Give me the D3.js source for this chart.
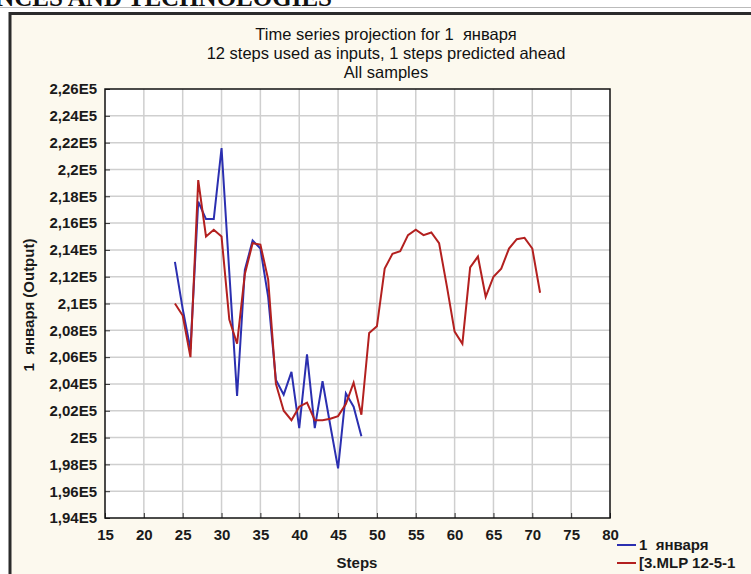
<!DOCTYPE html>
<html>
<head>
<meta charset="utf-8">
<script src="https://cdn.jsdelivr.net/npm/d3@7"></script>
<style>
  body { margin: 0; background: #fff; }
  svg { display: block; font-family: "Liberation Sans", Arial, sans-serif; }
  svg text { white-space: pre; }
</style>
</head>
<body>
<div id="chart"></div>
<script>
// steps and values
const actualSteps = [24, 25, 26, 27, 28, 29, 30, 31, 32, 33, 34, 35, 36, 37, 38, 39, 40, 41, 42, 43, 44, 45, 46, 47, 48];
const actualValues = [213100, 209600, 206600, 217600, 216300, 216300, 221600, 212300, 203100, 212500, 214700, 214100,
                      210500, 204300, 203200, 204900, 200700, 206200, 200700, 204200, 200900, 197700, 203300, 202300, 200100];

const predSteps = [24, 25, 26, 27, 28, 29, 30, 31, 32, 33, 34, 35, 36, 37, 38, 39, 40, 41, 42, 43, 44, 45, 46, 47,
                   48, 49, 50, 51, 52, 53, 54, 55, 56, 57, 58, 59, 60, 61, 62, 63, 64, 65, 66, 67, 68, 69, 70, 71];
const predValues = [210000, 209100, 206000, 219200, 215000, 215500, 215000, 208800, 207000, 212200, 214500, 214400,
                    211800, 204000, 202000, 201300, 202300, 202600, 201300, 201300, 201400, 201600, 202500, 204100,
                    201700, 207800, 208300, 212600, 213700, 213900, 215100, 215500, 215100, 215300, 214500, 211300,
                    207900, 207000, 212700, 213500, 210500, 212000, 212600, 214100, 214800, 214900, 214100, 210800];

const xTicks = [15, 20, 25, 30, 35, 40, 45, 50, 55, 60, 65, 70, 75, 80];
const yTicks = [194000, 196000, 198000, 200000, 202000, 204000, 206000, 208000, 210000, 212000, 214000, 216000,
                218000, 220000, 222000, 224000, 226000];

const titleLines = ["Time series projection for 1  января", "12 steps used as inputs, 1 steps predicted ahead", "All samples"];
const seriesNames = ["1  января", "[3.MLP 12-5-1"];

const W = 751, H = 574;
const plotL = 105, plotR = 610, plotT = 89, plotB = 518;

const svg = d3.select("#chart").append("svg")
    .attr("width", W)
    .attr("height", H);

// page strip (running head of the page, cut by the crop) + frame of the panel
svg.append("rect").attr("width", W).attr("height", H).attr("fill", "#fff");
svg.append("text")
    .attr("x", 332).attr("y", 6)
    .attr("text-anchor", "end")
    .style("font-family", "'Liberation Serif', serif")
    .style("font-weight", "bold")
    .style("font-size", "25px")
    .attr("fill", "#111")
    .text("ENGINEERING SCIENCES AND TECHNOLOGIES");
svg.append("line").attr("x1", 0).attr("x2", W).attr("y1", 7.5).attr("y2", 7.5)
    .attr("stroke", "#bbb").attr("stroke-width", 1);
svg.append("rect").attr("x", 11).attr("y", 14).attr("width", W).attr("height", H)
    .attr("fill", "#fcf9ee");
svg.append("path").attr("d", `M10,${H} V13.5 H${W}`)
    .attr("fill", "none").attr("stroke", "#2b2b2b").attr("stroke-width", 3);

const x = d3.scaleLinear().domain([15, 80]).range([plotL, plotR]);
const y = d3.scaleLinear().domain([194000, 226000]).range([plotB, plotT]);

svg.append("rect")
    .attr("x", plotL).attr("y", plotT)
    .attr("width", plotR - plotL).attr("height", plotB - plotT)
    .attr("fill", "#fff");

// grid
svg.append("g").selectAll("line").data(xTicks.slice(1, -1)).enter().append("line")
    .attr("x1", d => x(d)).attr("x2", d => x(d))
    .attr("y1", plotT).attr("y2", plotB)
    .attr("stroke", "#cfcfcf").attr("stroke-width", 1.5);
svg.append("g").selectAll("line").data(yTicks.slice(1, -1)).enter().append("line")
    .attr("x1", plotL).attr("x2", plotR)
    .attr("y1", d => y(d)).attr("y2", d => y(d))
    .attr("stroke", "#cfcfcf").attr("stroke-width", 1.5);

const fmt = v => String(+(v / 1e5).toFixed(2)).replace(".", ",") + "E5";

const yAxis = d3.axisLeft(y).tickValues(yTicks).tickFormat(fmt).tickSizeInner(-5).tickSizeOuter(0).tickPadding(8);
const gy = svg.append("g").attr("transform", `translate(${plotL},0)`).call(yAxis);
const xAxis = d3.axisBottom(x).tickValues(xTicks).tickFormat(d3.format("d")).tickSizeInner(-5).tickSizeOuter(0).tickPadding(11);
const gx = svg.append("g").attr("transform", `translate(0,${plotB})`).call(xAxis);

[gx, gy].forEach(g => {
    g.select(".domain").remove();
    g.selectAll("line").attr("stroke", "#333");
    g.selectAll("text")
        .attr("fill", "#1a1a1a")
        .style("font-size", "15px")
        .style("font-weight", "bold")
        .style("font-family", "'Liberation Sans', Arial, sans-serif");
});

svg.append("rect")
    .attr("x", plotL).attr("y", plotT)
    .attr("width", plotR - plotL).attr("height", plotB - plotT)
    .attr("fill", "none").attr("stroke", "#111").attr("stroke-width", 1.5);

// series
const line = d3.line().x(d => x(d[0])).y(d => y(d[1]));
svg.append("path")
    .datum(actualSteps.map((s, i) => [s, actualValues[i]]))
    .attr("d", line)
    .attr("fill", "none").attr("stroke", "#2b2fb0").attr("stroke-width", 2);
svg.append("path")
    .datum(predSteps.map((s, i) => [s, predValues[i]]))
    .attr("d", line)
    .attr("fill", "none").attr("stroke", "#b3201f").attr("stroke-width", 2);

// titles
svg.append("g").selectAll("text").data(titleLines).enter().append("text")
    .attr("x", 386)
    .attr("y", (d, i) => 40 + i * 19)
    .attr("text-anchor", "middle")
    .style("font-size", "16.5px")
    .attr("fill", "#111")
    .text(d => d);

svg.append("text")
    .attr("x", 357).attr("y", 568)
    .attr("text-anchor", "middle")
    .style("font-size", "15px")
    .style("font-weight", "bold")
    .attr("fill", "#1a1a1a")
    .text("Steps");

svg.append("text")
    .attr("transform", "translate(34,305) rotate(-90)")
    .attr("text-anchor", "middle")
    .style("font-size", "15px")
    .style("font-weight", "bold")
    .attr("fill", "#1a1a1a")
    .text("1  января (Output)");

// legend
const legendColors = ["#2b2fb0", "#b3201f"];
const lg = svg.append("g").selectAll("g").data(seriesNames).enter().append("g")
    .attr("transform", (d, i) => `translate(617,${545 + i * 18})`);
lg.append("line").attr("x1", 0).attr("x2", 19)
    .attr("stroke", (d, i) => legendColors[i]).attr("stroke-width", 2);
lg.append("text")
    .attr("x", 22).attr("y", 5)
    .style("font-size", "15px")
    .style("font-weight", "bold")
    .attr("fill", "#1a1a1a")
    .text(d => d);
</script>
</body>
</html>
